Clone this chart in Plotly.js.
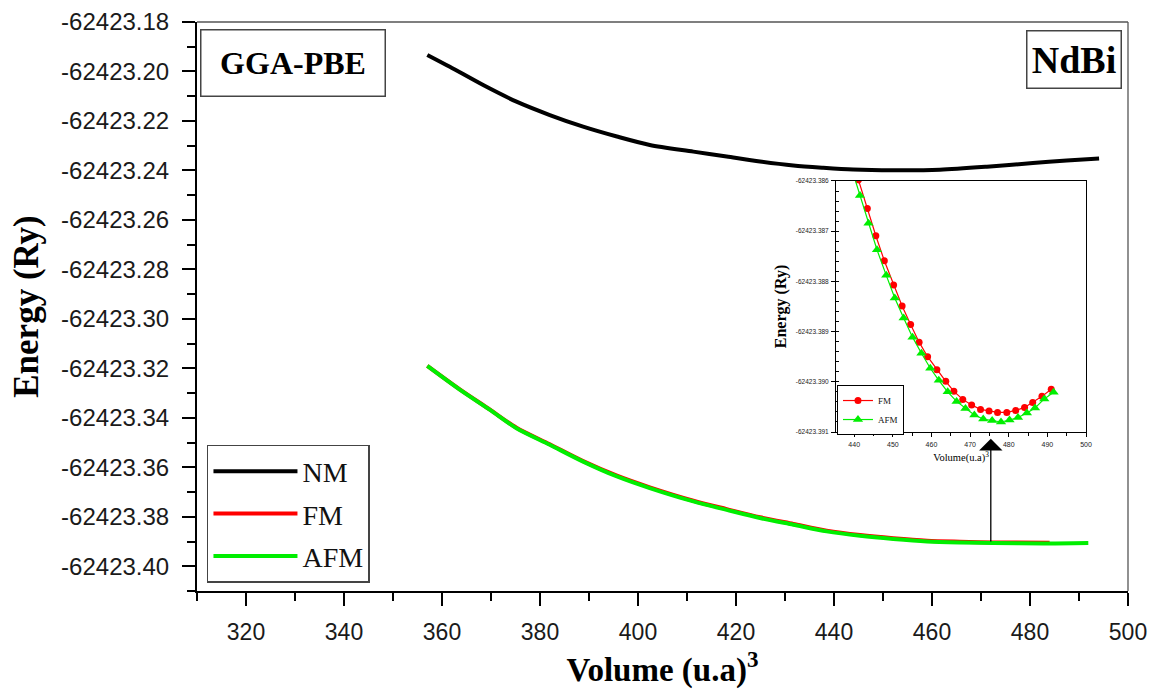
<!DOCTYPE html>
<html>
<head>
<meta charset="utf-8">
<script src="https://cdn.plot.ly/plotly-3.0.1.min.js"></script>
<style>html,body{margin:0;padding:0;background:#fff;}#chart{width:1154px;height:691px;}</style>
</head>
<body>
<div id="chart"></div>
<script>
// ---- Main chart data (Volume in (u.a)^3, Energy in Ry) ----
var nmVolume = [357.0, 361.6, 368.4, 375.2, 382.0, 388.8, 395.7, 402.4, 411.3, 418.1, 424.9, 431.7, 437.8, 443.9, 452.0, 461.6, 471.2, 480.6, 487.5, 494.1];
var nmEnergy = [-62423.1933, -62423.1981, -62423.2055, -62423.2122, -62423.2176, -62423.2223, -62423.2263, -62423.2297, -62423.2324, -62423.2344, -62423.2364, -62423.2380, -62423.2389, -62423.2396, -62423.2399, -62423.2397, -62423.2385, -62423.2370, -62423.2360, -62423.2352];

var fmVolume = [357.0, 363.7, 369.8, 375.2, 382.0, 388.8, 395.7, 402.4, 411.3, 418.1, 424.9, 431.7, 438.5, 445.3, 452.1, 459.0, 465.7, 472.5, 484.0];
var fmEnergy = [-62423.3190, -62423.3286, -62423.3367, -62423.3440, -62423.3507, -62423.3575, -62423.3634, -62423.3681, -62423.3735, -62423.3769, -62423.3802, -62423.3829, -62423.3856, -62423.3874, -62423.3887, -62423.3897, -62423.3901, -62423.3904, -62423.3905];

var afmVolume = [357.0, 363.7, 369.8, 375.2, 382.0, 388.8, 395.7, 402.4, 411.3, 418.1, 424.9, 431.7, 438.5, 445.3, 452.1, 459.0, 465.7, 472.5, 482.7, 491.9];
var afmEnergy = [-62423.3190, -62423.3287, -62423.3368, -62423.3442, -62423.3509, -62423.3577, -62423.3637, -62423.3684, -62423.3738, -62423.3772, -62423.3805, -62423.3832, -62423.3859, -62423.3877, -62423.3890, -62423.3900, -62423.3904, -62423.3906, -62423.3908, -62423.3906];

var yTickValues = [-62423.18, -62423.20, -62423.22, -62423.24, -62423.26, -62423.28, -62423.30, -62423.32, -62423.34, -62423.36, -62423.38, -62423.40];
var yTickLabels = ['-62423.18', '-62423.20', '-62423.22', '-62423.24', '-62423.26', '-62423.28', '-62423.30', '-62423.32', '-62423.34', '-62423.36', '-62423.38', '-62423.40'];

// ---- Inset data (zoom near the minimum) ----
var insetFmVolume = [441.1, 443.4, 445.6, 447.8, 450.2, 452.4, 454.6, 456.8, 459.0, 461.4, 463.7, 465.8, 468.1, 470.4, 472.7, 474.9, 477.1, 479.5, 481.8, 484.1, 486.2, 488.6, 491.0];
var insetFmEnergy = [-62423.38598, -62423.38655, -62423.38709, -62423.38759, -62423.38807, -62423.38849, -62423.38886, -62423.38921, -62423.38950, -62423.38976, -62423.38999, -62423.39019, -62423.39035, -62423.39046, -62423.39055, -62423.39058, -62423.39061, -62423.39061, -62423.39057, -62423.39051, -62423.39041, -62423.39029, -62423.39015];

var insetAfmVolume = [439.2, 441.5, 443.7, 445.9, 448.3, 450.5, 452.8, 455.1, 457.4, 459.7, 461.9, 464.2, 466.5, 468.8, 471.1, 473.4, 475.7, 478.0, 480.2, 482.4, 484.7, 486.8, 489.2, 491.6];
var insetAfmEnergy = [-62423.38572, -62423.38629, -62423.38684, -62423.38737, -62423.38788, -62423.38833, -62423.38873, -62423.38911, -62423.38943, -62423.38973, -62423.38997, -62423.39020, -62423.39039, -62423.39053, -62423.39066, -62423.39074, -62423.39077, -62423.39080, -62423.39076, -62423.39071, -62423.39062, -62423.39052, -62423.39034, -62423.39021];

var insetYTickValues = [-62423.386, -62423.387, -62423.388, -62423.389, -62423.390, -62423.391];
var insetYTickLabels = ['-62423.386', '-62423.387', '-62423.388', '-62423.389', '-62423.390', '-62423.391'];

// Arrow from the main minimum up to the inset
var arrowVolume = 472.0;
var arrowFromEnergy = -62423.3906;
var arrowToEnergy = -62423.3485;

var SERIF = 'Liberation Serif, Times New Roman, serif';
var SANS = 'Liberation Sans, Arial, sans-serif';

var traces = [
  {x: nmVolume, y: nmEnergy, name: 'NM', mode: 'lines', line: {color: '#000000', width: 4, shape: 'spline', smoothing: 0.8},
   xaxis: 'x', yaxis: 'y', legend: 'legend', legendgroup: 'a'},
  {x: fmVolume, y: fmEnergy, name: 'FM', mode: 'lines', line: {color: '#ff0000', width: 4, shape: 'spline', smoothing: 0.8},
   xaxis: 'x', yaxis: 'y', legend: 'legend', legendgroup: 'b'},
  {x: afmVolume, y: afmEnergy, name: 'AFM', mode: 'lines', line: {color: '#00ee00', width: 4, shape: 'spline', smoothing: 0.8},
   xaxis: 'x', yaxis: 'y', legend: 'legend', legendgroup: 'c'},
  {x: insetFmVolume, y: insetFmEnergy, name: 'FM', mode: 'lines+markers',
   line: {color: '#ff0000', width: 1.2}, marker: {color: '#ff0000', size: 7, symbol: 'circle'},
   xaxis: 'x2', yaxis: 'y2', legend: 'legend2'},
  {x: insetAfmVolume, y: insetAfmEnergy, name: 'AFM', mode: 'lines+markers',
   line: {color: '#00ee00', width: 1.2}, marker: {color: '#00ee00', size: 9, symbol: 'triangle-up'},
   xaxis: 'x2', yaxis: 'y2', legend: 'legend2'}
];

var layout = {
  width: 1154, height: 691,
  margin: {l: 197, r: 26, t: 22, b: 100},
  paper_bgcolor: '#ffffff', plot_bgcolor: '#ffffff',
  showlegend: true,
  xaxis: {
    domain: [0, 1], range: [310, 500], tick0: 0, dtick: 20,
    ticks: 'outside', ticklen: 13, tickwidth: 2, tickcolor: '#000',
    minor: {dtick: 10, ticklen: 8, tickwidth: 2, tickcolor: '#000', ticks: 'outside'},
    showline: true, linecolor: '#000', linewidth: 2, showgrid: false, zeroline: false,
    tickfont: {family: SANS, size: 23, color: '#1a1a1a'}, ticklabelstandoff: 6,
    title: {text: 'Volume (u.a)<sup>3</sup>', font: {family: SERIF, size: 33, weight: 'bold', color: '#000'}, standoff: 14}
  },
  yaxis: {
    domain: [0, 1], range: [-62423.41, -62423.18],
    tickmode: 'array', tickvals: yTickValues, ticktext: yTickLabels,
    ticks: 'outside', ticklen: 13, tickwidth: 2, tickcolor: '#000',
    minor: {tick0: -62423.18, dtick: 0.01, ticklen: 8, tickwidth: 2, tickcolor: '#000', ticks: 'outside'},
    showline: true, linecolor: '#000', linewidth: 2, showgrid: false, zeroline: false,
    tickfont: {family: SANS, size: 24, color: '#1a1a1a'}, ticklabelstandoff: 8,
    title: {text: 'Energy (Ry)', font: {family: SERIF, size: 35, weight: 'bold', color: '#000'}, standoff: 12}
  },
  xaxis2: {
    domain: [0.6864, 0.9549], anchor: 'y2', range: [435.3, 500], tick0: 0, dtick: 10,
    ticks: 'outside', ticklen: 4, tickwidth: 1, tickcolor: '#000',
    minor: {dtick: 5, ticklen: 2.5, tickwidth: 1, tickcolor: '#000', ticks: 'outside'},
    showline: true, linecolor: '#000', linewidth: 1, mirror: true, showgrid: false, zeroline: false,
    tickfont: {family: SANS, size: 7, color: '#222'}, ticklabelstandoff: 2,
    title: {text: 'Volume(u.a)<sup>3</sup>', font: {family: SERIF, size: 10.5, color: '#000'}, standoff: 6}
  },
  yaxis2: {
    domain: [0.2794, 0.7206], anchor: 'x2', range: [-62423.391, -62423.386],
    tickmode: 'array', tickvals: insetYTickValues, ticktext: insetYTickLabels,
    ticks: 'outside', ticklen: 4, tickwidth: 1, tickcolor: '#000',
    minor: {tick0: -62423.386, dtick: 0.0002, ticklen: 2.5, tickwidth: 1, tickcolor: '#000', ticks: 'inside'},
    showline: true, linecolor: '#000', linewidth: 1, mirror: true, showgrid: false, zeroline: false,
    tickfont: {family: SANS, size: 6.5, color: '#222'}, ticklabelstandoff: 1,
    title: {text: 'Energy (Ry)', font: {family: SERIF, size: 16, weight: 'bold', color: '#000'}, standoff: 5}
  },
  legend: {
    x: 0.0107, y: 0.2566, xanchor: 'left', yanchor: 'top',
    bgcolor: '#ffffff', bordercolor: '#444', borderwidth: 1.5,
    font: {family: SERIF, size: 28, color: '#111'},
    itemwidth: 84, traceorder: 'grouped', tracegroupgap: 3
  },
  legend2: {
    x: 0.6874, y: 0.362, xanchor: 'left', yanchor: 'top',
    bgcolor: '#ffffff', bordercolor: '#000', borderwidth: 1,
    font: {family: SERIF, size: 9, color: '#111'},
    itemwidth: 30
  },
  shapes: [
    {type: 'line', xref: 'paper', yref: 'paper', x0: 0, x1: 1, y0: 1, y1: 1, line: {color: '#555', width: 1.3}},
    {type: 'line', xref: 'paper', yref: 'paper', x0: 1, x1: 1, y0: 0, y1: 1, line: {color: '#555', width: 1.3}}
  ],
  annotations: [
    {xref: 'paper', yref: 'paper', x: 0.1026, y: 0.9274, xanchor: 'center', yanchor: 'middle',
     text: '<b>GGA-PBE</b>', showarrow: false, width: 181, height: 63, borderpad: 1,
     bordercolor: '#444', borderwidth: 1.5, bgcolor: '#ffffff',
     font: {family: SERIF, size: 32, color: '#000'}},
    {xref: 'paper', yref: 'paper', x: 0.9422, y: 0.9346, xanchor: 'center', yanchor: 'middle',
     text: '<b>NdBi</b>', showarrow: false, width: 91, height: 54, borderpad: 1,
     bordercolor: '#444', borderwidth: 1.5, bgcolor: '#ffffff',
     font: {family: SERIF, size: 38, color: '#000'}},
    {xref: 'x', yref: 'y', x: arrowVolume, y: arrowToEnergy, axref: 'x', ayref: 'y',
     ax: arrowVolume, ay: arrowFromEnergy, text: '', showarrow: true,
     arrowhead: 1, arrowsize: 3, arrowwidth: 1.3, arrowcolor: '#000', standoff: 0, startstandoff: 0}
  ]
};

Plotly.newPlot('chart', traces, layout, {displayModeBar: false, staticPlot: true});
</script>
</body>
</html>
